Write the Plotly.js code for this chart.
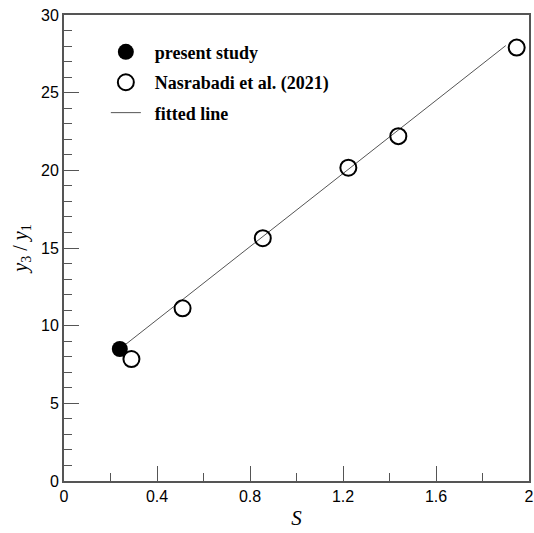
<!DOCTYPE html>
<html>
<head>
<meta charset="utf-8">
<script src="https://cdn.plot.ly/plotly-3.0.1.min.js"></script>
<style>
  html, body { margin: 0; padding: 0; background: #ffffff; }
  #chart { width: 534px; height: 533px; }
</style>
</head>
<body>
<div id="chart"></div>
<script>
// Present study result
const presentS = [0.24];
const presentRatio = [8.5];

// Nasrabadi et al. (2021) data
const nasrabadiS = [0.29, 0.51, 0.855, 1.223, 1.438, 1.947];
const nasrabadiRatio = [7.85, 11.12, 15.63, 20.17, 22.2, 27.9];

// Fitted line end points
const fitS = [0.24, 1.90];
const fitRatio = [8.5, 28.03];

// Axis ticks
const xTicks = [0, 0.4, 0.8, 1.2, 1.6, 2];
const xTickText = ['0', '0.4', '0.8', '1.2', '1.6', '2'];
const yTicks = [0, 5, 10, 15, 20, 25, 30];

const serif = '"Liberation Serif", "Times New Roman", serif';
const sans = '"Liberation Sans", Arial, sans-serif';
const axisColor = '#555555';
const pad = '&nbsp;&nbsp;';

// Fitted line first so the markers sit on top of it
const traces = [
  {
    x: fitS, y: fitRatio,
    type: 'scatter', mode: 'lines',
    name: pad + '<b>fitted line</b>',
    legendgroup: 'fit', legendrank: 3,
    line: { color: '#555555', width: 1 }
  },
  {
    x: presentS, y: presentRatio,
    type: 'scatter', mode: 'markers',
    name: pad + '<b>present study</b>',
    legendgroup: 'present', legendrank: 1,
    marker: { symbol: 'circle', size: 16, color: '#000000', line: { width: 0 } },
    cliponaxis: false
  },
  {
    x: nasrabadiS, y: nasrabadiRatio,
    type: 'scatter', mode: 'markers',
    name: pad + '<b>Nasrabadi et al. (2021)</b>',
    legendgroup: 'nasrabadi', legendrank: 2,
    marker: { symbol: 'circle-open', size: 16, color: '#000000', line: { width: 2, color: '#000000' } },
    cliponaxis: false
  }
];

const layout = {
  width: 534,
  height: 533,
  margin: { l: 64, r: 5, t: 15, b: 52 },
  paper_bgcolor: '#ffffff',
  plot_bgcolor: '#ffffff',
  showlegend: true,
  legend: {
    x: 0.09, y: 0.96, xanchor: 'left', yanchor: 'top',
    bgcolor: 'rgba(0,0,0,0)',
    font: { family: serif, size: 18, color: '#000000' },
    traceorder: 'grouped',
    tracegroupgap: 4
  },
  xaxis: {
    range: [0, 2],
    tickmode: 'array', tickvals: xTicks, ticktext: xTickText,
    ticks: 'inside', ticklen: 15, tickwidth: 1, tickcolor: axisColor,
    minor: { dtick: 0.2, ticks: 'inside', ticklen: 8, tickwidth: 1, tickcolor: axisColor },
    showgrid: false, zeroline: false,
    showline: true, linecolor: axisColor, linewidth: 2, mirror: true,
    tickfont: { family: sans, size: 16, color: '#000000' },
    title: { text: '<i>S</i>', font: { family: serif, size: 21, color: '#000000' }, standoff: 6 }
  },
  yaxis: {
    range: [0, 30],
    tickmode: 'array', tickvals: yTicks,
    ticks: 'inside', ticklen: 15, tickwidth: 1, tickcolor: axisColor,
    minor: { dtick: 1, ticks: 'inside', ticklen: 8, tickwidth: 1, tickcolor: axisColor },
    showgrid: false, zeroline: false,
    showline: true, linecolor: axisColor, linewidth: 2, mirror: true,
    tickfont: { family: sans, size: 16, color: '#000000' },
    title: { text: '<i>y</i><sub>3</sub> / <i>y</i><sub>1</sub>', font: { family: serif, size: 20, color: '#000000' }, standoff: 8 }
  }
};

Plotly.newPlot('chart', traces, layout, { displayModeBar: false, staticPlot: true });
</script>
</body>
</html>
